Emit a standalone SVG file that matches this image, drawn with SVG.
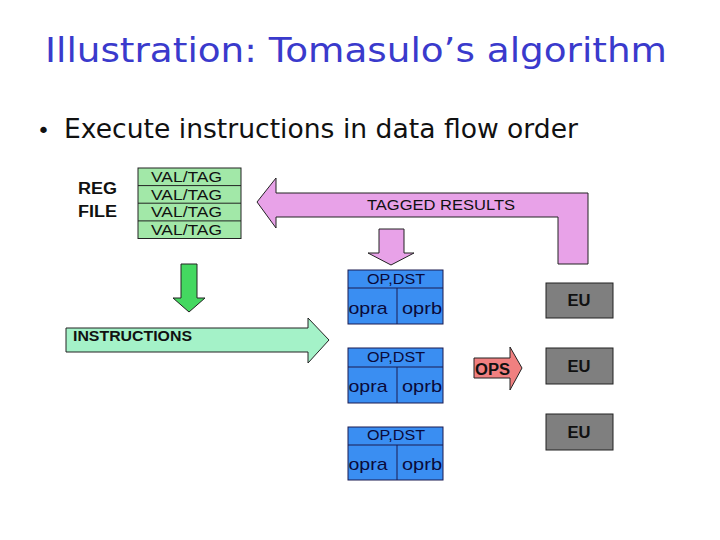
<svg xmlns="http://www.w3.org/2000/svg" width="720" height="540" viewBox="0 0 720 540">
<style>
.lbl{font-family:"Liberation Sans",Arial,sans-serif;font-weight:bold;fill:#111;}
.rs{fill:#3a8ef2;stroke:#1a1a50;stroke-width:1;}
.rst{font-family:"Liberation Sans",Arial,sans-serif;fill:#0a0a3a;text-anchor:middle;}
.eu{fill:#7f7f7f;stroke:#222;stroke-width:1;}
.arr{stroke:#222;stroke-width:1;}
</style>
<rect width="720" height="540" fill="#fff"/>
<text x="356" y="62" text-anchor="middle" font-family="DejaVu Sans,sans-serif" font-size="34" fill="#3a3acc" textLength="622" lengthAdjust="spacingAndGlyphs">Illustration: Tomasulo’s algorithm</text>
<text x="37" y="138" font-family="DejaVu Sans,sans-serif" font-size="22" fill="#111">•</text>
<text x="64" y="138" font-family="DejaVu Sans,sans-serif" font-size="26" fill="#111" textLength="514" lengthAdjust="spacingAndGlyphs">Execute instructions in data flow order</text>

<g id="regfile">
<text class="lbl" x="78" y="194" font-size="16" textLength="39" lengthAdjust="spacingAndGlyphs">REG</text>
<text class="lbl" x="78" y="217" font-size="16" textLength="39" lengthAdjust="spacingAndGlyphs">FILE</text>
</g>
<g id="valtag">
<rect x="138" y="168" width="103" height="70.5" fill="#a2e8a8" stroke="#222"/>
<line x1="138" y1="185.6" x2="241" y2="185.6" stroke="#222"/>
<line x1="138" y1="203.2" x2="241" y2="203.2" stroke="#222"/>
<line x1="138" y1="220.9" x2="241" y2="220.9" stroke="#222"/>
<g font-family="Liberation Sans,Arial,sans-serif" font-size="15" fill="#111" text-anchor="middle">
<text x="186.5" y="182" textLength="71" lengthAdjust="spacingAndGlyphs">VAL/TAG</text>
<text x="186.5" y="199.5" textLength="71" lengthAdjust="spacingAndGlyphs">VAL/TAG</text>
<text x="186.5" y="217" textLength="71" lengthAdjust="spacingAndGlyphs">VAL/TAG</text>
<text x="186.5" y="234.5" textLength="71" lengthAdjust="spacingAndGlyphs">VAL/TAG</text>
</g>
</g>

<g id="connectors">
<g id="tagged-results">
<polygon class="arr" fill="#e8a2e8" points="257,202 276,178 276,193 588,193 588,264 558,264 558,217 276,217 276,228"/>
<text x="441" y="210" font-family="Liberation Sans,Arial,sans-serif" font-size="14.5" fill="#111" text-anchor="middle" textLength="148" lengthAdjust="spacingAndGlyphs">TAGGED RESULTS</text>
</g>
<polygon id="pink-down" class="arr" fill="#e8a2e8" points="379,229 404,229 404,253 414,253 391,265 368,253 379,253"/>
<polygon id="green-down" class="arr" fill="#44d860" points="181,264 197,264 197,298 205,298 189,312 173,298 181,298"/>
<g id="instructions">
<polygon class="arr" fill="#a4f2c8" points="66,328 308,328 308,318 329,340 308,363 308,352 66,352"/>
<text class="lbl" x="73" y="341" font-size="14" textLength="119" lengthAdjust="spacingAndGlyphs">INSTRUCTIONS</text>
</g>
<g id="ops">
<polygon class="arr" fill="#f08080" points="474,358 510,358 510,347 522,368 510,390 510,378 474,378"/>
<text class="lbl" x="475" y="375" font-size="16" fill="#3a0000" textLength="35" lengthAdjust="spacingAndGlyphs">OPS</text>
</g>
</g>

<g id="rs1">
<rect class="rs" x="348" y="270" width="95" height="54"/>
<line x1="348" y1="288" x2="443" y2="288" stroke="#1a1a50"/>
<line x1="397" y1="288" x2="397" y2="324" stroke="#1a1a50"/>
<text class="rst" x="396" y="284" font-size="14.5" textLength="58" lengthAdjust="spacingAndGlyphs">OP,DST</text>
<text class="rst" x="368" y="314" font-size="17" textLength="39" lengthAdjust="spacingAndGlyphs">opra</text>
<text class="rst" x="422" y="314" font-size="17" textLength="40" lengthAdjust="spacingAndGlyphs">oprb</text>
</g>
<g id="rs2">
<rect class="rs" x="348" y="348" width="95" height="55"/>
<line x1="348" y1="367" x2="443" y2="367" stroke="#1a1a50"/>
<line x1="397" y1="367" x2="397" y2="403" stroke="#1a1a50"/>
<text class="rst" x="396" y="362" font-size="14.5" textLength="58" lengthAdjust="spacingAndGlyphs">OP,DST</text>
<text class="rst" x="368" y="392" font-size="17" textLength="39" lengthAdjust="spacingAndGlyphs">opra</text>
<text class="rst" x="422" y="392" font-size="17" textLength="40" lengthAdjust="spacingAndGlyphs">oprb</text>
</g>
<g id="rs3">
<rect class="rs" x="348" y="427" width="95" height="53"/>
<line x1="348" y1="445" x2="443" y2="445" stroke="#1a1a50"/>
<line x1="397" y1="445" x2="397" y2="480" stroke="#1a1a50"/>
<text class="rst" x="396" y="440" font-size="14.5" textLength="58" lengthAdjust="spacingAndGlyphs">OP,DST</text>
<text class="rst" x="368" y="470" font-size="17" textLength="39" lengthAdjust="spacingAndGlyphs">opra</text>
<text class="rst" x="422" y="470" font-size="17" textLength="40" lengthAdjust="spacingAndGlyphs">oprb</text>
</g>

<g id="eu1">
<rect class="eu" x="546" y="283" width="67" height="35"/>
<text class="lbl" x="579" y="306" font-size="16" text-anchor="middle" textLength="23" lengthAdjust="spacingAndGlyphs">EU</text>
</g>
<g id="eu2">
<rect class="eu" x="546" y="348" width="67" height="36"/>
<text class="lbl" x="579" y="372" font-size="16" text-anchor="middle" textLength="23" lengthAdjust="spacingAndGlyphs">EU</text>
</g>
<g id="eu3">
<rect class="eu" x="546" y="414" width="67" height="36"/>
<text class="lbl" x="579" y="438" font-size="16" text-anchor="middle" textLength="23" lengthAdjust="spacingAndGlyphs">EU</text>
</g>
</svg>
